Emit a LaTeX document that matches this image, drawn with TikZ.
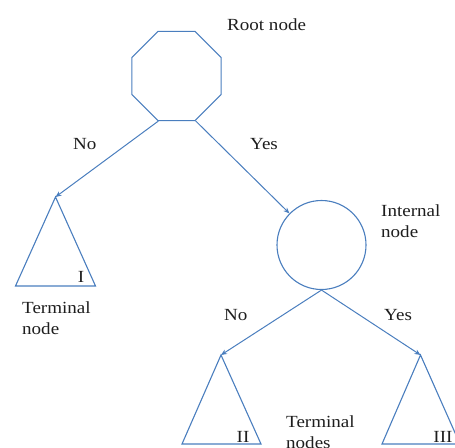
\documentclass[tikz,border=0pt]{standalone}
\usepackage{fontspec}
\setmainfont{Liberation Serif}[FakeStretch=1.12]
\usetikzlibrary{shapes.geometric,arrows.meta}
\definecolor{edgeblue}{RGB}{74,126,190}
\definecolor{inktext}{RGB}{30,30,30}
\tikzset{
  shapeline/.style={draw=edgeblue, line width=1.1pt},
  arr/.style={draw=edgeblue, line width=1pt, -{Stealth[length=6pt,width=5pt]}},
  lbl/.style={inner sep=0pt, text=inktext, font=\fontsize{17}{21}\selectfont},
  note/.style={lbl, anchor=base west, align=left},
}
\begin{document}
\begin{tikzpicture}[x=1pt,y=-1pt]
\useasboundingbox (0,0) rectangle (455,447);

% root and internal decision nodes
\node[shapeline, regular polygon, regular polygon sides=8, minimum size=96.5pt, inner sep=0pt] (root) at (176.5,76) {};
\node[shapeline, circle, minimum size=89pt, inner sep=0pt] (internal) at (321.5,245) {};

% apexes of the terminal triangles
\coordinate (t1) at (55.5,197);
\coordinate (t2) at (221,355);
\coordinate (t3) at (420.5,355);

% terminal triangles
\draw[shapeline, line join=miter] (t1) -- (95.5,286) -- (15.5,286) -- cycle;
\draw[shapeline, line join=miter] (t2) -- (261,444) -- (182,444) -- cycle;
\draw[shapeline, line join=miter] (t3) -- (460,444) -- (382,444) -- cycle;

% branches
\draw[arr] (root.-112.5) -- (t1);
\draw[arr] (root.-67.5) -- (internal);
\draw[arr] (internal.south) -- (t2);
\draw[arr] (internal.south) -- (t3);

% texts (two-line notes are placed by the baseline of their last line)
\node[note] (rootlbl) at (227,30) {Root node};
\node[note] (no1) at (73,149) {No};
\node[note] (yes1) at (250,149) {Yes};
\node[note] (intlbl) at (381,237) {Internal\\node};
\node[note] (term1) at (22,334) {Terminal\\node};
\node[note] (no2) at (224,320) {No};
\node[note] (yes2) at (384,320) {Yes};
\node[note] (term23) at (286,448) {Terminal\\nodes};
\node[lbl, anchor=base] (r1) at (81,282) {I};
\node[lbl, anchor=base] (r2) at (243,442) {II};
\node[lbl, anchor=base] (r3) at (443,442) {III};
\end{tikzpicture}
\end{document}
